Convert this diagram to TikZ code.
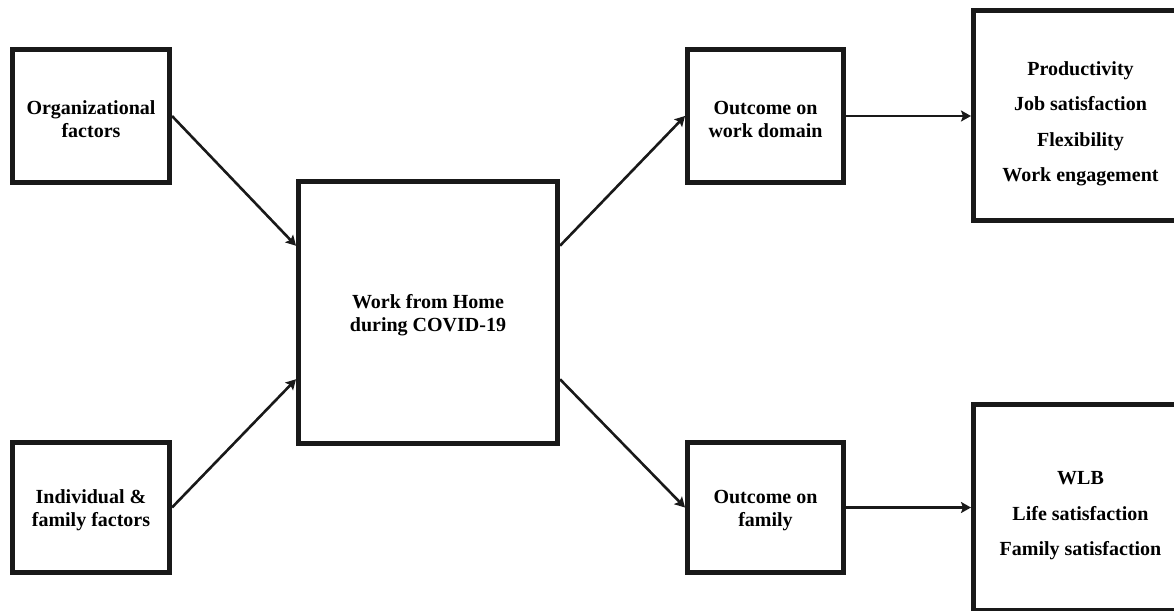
\documentclass[tikz,border=0pt]{standalone}
\usepackage{fontspec}
\setmainfont{Liberation Serif}
\usetikzlibrary{arrows.meta,calc}
\newcommand{\tpad}[1]{\rule{0pt}{#1}}
\begin{document}
\begin{tikzpicture}[x=0.5pt,y=-0.5pt,
  box/.style={draw=black!90, line width=2.5pt, fill=white, inner sep=0pt, align=center,
    font=\bfseries\fontsize{10}{11.5}\selectfont},
  listbox/.style={box, font=\bfseries\fontsize{10}{17.75}\selectfont},
  conn/.style={draw=black!90, line width=1.3pt, -{Stealth[length=5pt,width=5.5pt,inset=1pt]}}]
\useasboundingbox (0,0) rectangle (1174,611);
\clip (0,0) rectangle (1174,611);
\node[box, minimum width=78.5pt, minimum height=66.5pt] (b1) at (91,116) {\tpad{10pt}Organizational\\factors};
\node[box, minimum width=78.5pt, minimum height=65pt] (b5) at (91,507.5) {\tpad{10pt}Individual \&\\family factors};
\node[box, minimum width=129.5pt, minimum height=131pt] (b2) at (428,312.5) {\tpad{10pt}Work from Home\\during COVID-19};
\node[box, minimum width=78pt, minimum height=66.5pt] (b3) at (765.5,116) {\tpad{10pt}Outcome on\\work domain};
\node[box, minimum width=78pt, minimum height=65pt] (b6) at (765.5,507.5) {\tpad{10pt}Outcome on\\family};
\node[listbox, minimum width=107pt, minimum height=105pt] (b4) at (1080.5,115.5) {\tpad{15pt}Productivity\\Job satisfaction\\Flexibility\\Work engagement};
\node[listbox, minimum width=107pt, minimum height=103pt] (b7) at (1080.5,507.5) {\tpad{15pt}WLB\\Life satisfaction\\Family satisfaction};
\draw[conn] (b1.east) -- ($(b2.north west)!0.25!(b2.south west)$);
\draw[conn] (b5.east) -- ($(b2.north west)!0.75!(b2.south west)$);
\draw[conn] ($(b2.north east)!0.25!(b2.south east)$) -- (b3.west);
\draw[conn] ($(b2.north east)!0.75!(b2.south east)$) -- (b6.west);
\draw[conn] (b3.east) -- (b3.east -| b4.west);
\draw[conn] (b6.east) -- (b6.east -| b7.west);
\end{tikzpicture}
\end{document}
